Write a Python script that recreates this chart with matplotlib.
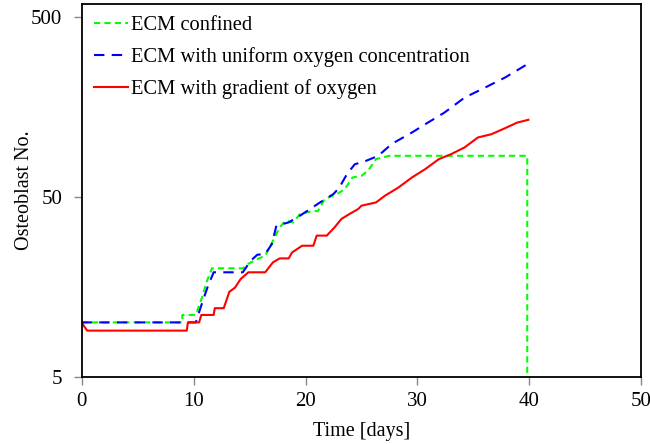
import matplotlib
matplotlib.use('Agg')
import matplotlib.pyplot as plt
from matplotlib.ticker import FixedLocator, NullLocator, FixedFormatter

plt.rcParams['font.family'] = ['Liberation Serif', 'DejaVu Serif']

# ECM confined
t_conf = [0, 9.0, 9.0, 10.2, 10.8, 11.2, 11.65, 14.4, 14.9, 15.7, 16.4, 17.1, 17.7,
          18.2, 18.9, 19.5, 20.7, 21.1, 21.7, 22.8, 23.5, 24.2, 25.0, 25.6, 26.3,
          27.5, 39.8, 39.8]
n_conf = [10, 10, 11, 11, 14, 17, 20, 20, 21.2, 22.5, 23.5, 28.5, 33.8,
          36.8, 36, 40, 41.8, 41.5, 48.5, 51.8, 55, 64, 65.4, 70, 81,
          84.5, 84.5, 1]

# ECM with uniform oxygen concentration
t_unif = [0, 10.2, 10.8, 11.3, 11.8, 14.4, 15.1, 15.7, 16.4, 17.0, 17.4, 18.5, 19.5,
          20.4, 21.3, 22.5, 23.0, 23.7, 24.4, 25.4, 26.5, 27.7, 29.5, 30.7, 32.4,
          34.2, 36.0, 37.8, 39.8]
n_unif = [10, 10, 13, 16, 19, 19, 22, 23.8, 24, 27.3, 34.5, 36, 39.2,
          42.7, 46.5, 51.8, 56, 66.8, 75.8, 79.2, 84.5, 98.4, 113.8, 126.7, 146.9,
          178, 202, 230, 273]

# ECM with gradient of oxygen
t_grad = [0, 0.5, 9.4, 9.5, 10.5, 10.7, 11.8, 11.9, 12.7, 13.2, 13.7, 14.2, 14.9,
          16.4, 17.1, 17.7, 18.5, 18.8, 19.7, 20.7, 21.0, 21.9, 22.6, 23.2, 23.9,
          24.7, 25.0, 26.3, 27.1, 28.3, 29.5, 30.7, 31.9, 33.0, 34.2, 35.4, 36.6,
          37.8, 38.9, 39.9]
n_grad = [10, 9, 9, 10, 10, 11, 11, 12, 12, 14.8, 15.6, 17.4, 19,
          19, 21.6, 22.7, 22.7, 24.5, 26.7, 26.7, 30.4, 30.4, 33.8, 37.6, 40,
          42.7, 44.6, 46.5, 50.7, 56.3, 64, 71.3, 80.9, 86.3, 94, 106.9, 111.4,
          120.2, 129.3, 134]

fig = plt.figure(figsize=(6.5, 4.44), dpi=100)
ax = fig.add_axes([0.1254, 0.152, 0.8615, 0.840])

ax.plot(t_conf, n_conf, color='#00ff00', lw=1.5, dashes=(3, 2), label='ECM confined')
ax.plot(t_unif, n_unif, color='#0000ff', lw=1.5, dashes=(5, 3.5),
        label='ECM with uniform oxygen concentration')
ax.plot(t_grad, n_grad, color='#ff0000', lw=1.5, label='ECM with gradient of oxygen')

ax.set_yscale('log')
ax.set_xlim(0, 50)
ax.set_ylim(5, 594)
ax.yaxis.set_major_locator(FixedLocator([5, 50, 500]))
ax.yaxis.set_major_formatter(FixedFormatter(['5', '50', '500']))
ax.yaxis.set_minor_locator(NullLocator())
ax.set_xticks([0, 10, 20, 30, 40, 50])

ax.tick_params(direction='out', length=6, labelsize=15, width=1, color='#888888')
ax.tick_params(axis='x', pad=5)
ax.tick_params(axis='y', pad=8)
for s in ax.spines.values():
    s.set_linewidth(1.3)

ax.set_xlabel('Time [days]', fontsize=14.5, labelpad=8)
ax.set_ylabel('Osteoblast No.', fontsize=14.5, labelpad=-2)

ax.legend(loc='upper left', bbox_to_anchor=(0.0075, 0.99), frameon=False,
          fontsize=14.8, handlelength=1.65, handletextpad=0.15,
          borderaxespad=0, labelspacing=0.6)

fig.savefig('out.png', dpi=100)
